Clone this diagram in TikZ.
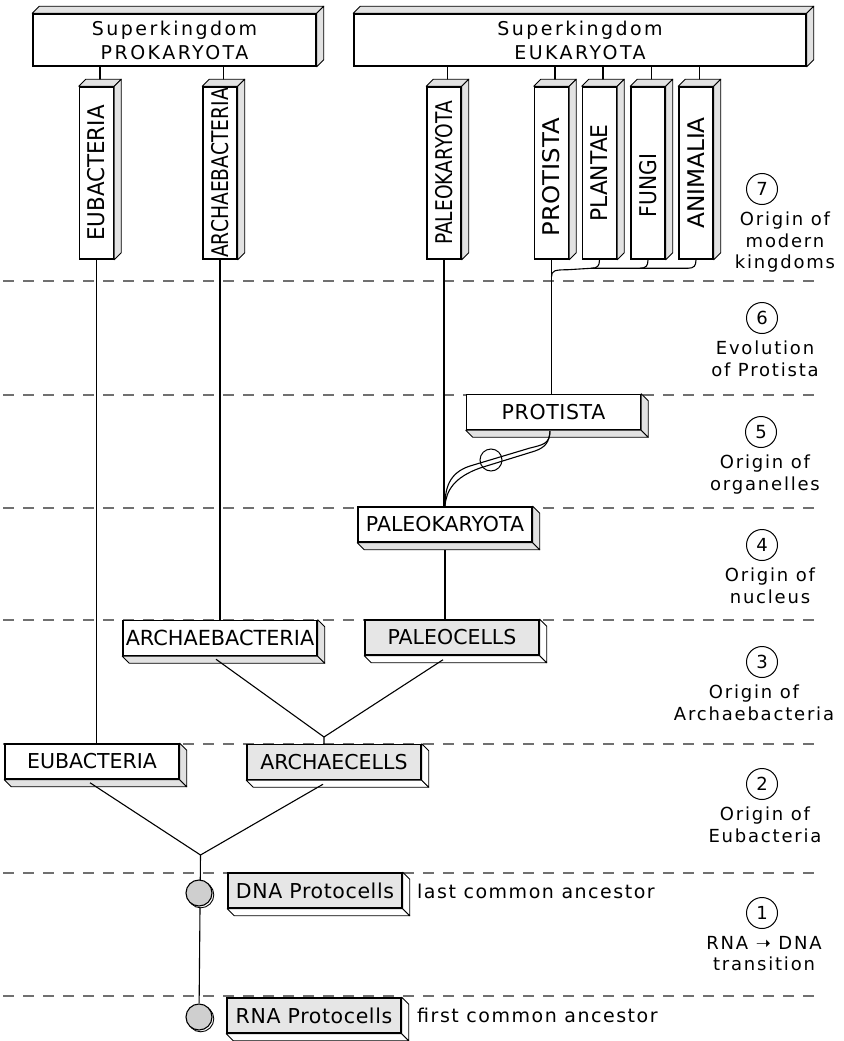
\documentclass[tikz,border=0pt]{standalone}
\usepackage{fontspec}
\setmainfont{DejaVu Sans}
\usepackage{graphicx}
\usetikzlibrary{calc,backgrounds}
\definecolor{facegray}{HTML}{E2E2E2}
\definecolor{boxgray}{HTML}{E6E6E6}
\definecolor{dotgray}{HTML}{CFCFCF}
\definecolor{dashgray}{HTML}{707070}
\newcommand\trk[1]{\addfontfeature{LetterSpace=#1}}
\newcommand\vtext[3][0pt]{\rotatebox{90}{\scalebox{#2}[1]{#3}\hspace{#1}}}
\newcommand\myfaceUR[2][face]{%
  \filldraw[#1] (#2.north west) -- ++(7,-7) -- ($(#2.north east)+(7,-7)$) -- (#2.north east) -- cycle;
  \filldraw[#1] (#2.north east) -- ($(#2.north east)+(7,-7)$) -- ($(#2.south east)+(7,-7)$) -- (#2.south east) -- cycle;}
\newcommand\myfaceDR[2][face]{%
  \filldraw[#1] (#2.south west) -- ++(7,7) -- ($(#2.south east)+(7,7)$) -- (#2.south east) -- cycle;
  \filldraw[#1] (#2.north east) -- ($(#2.north east)+(7,7)$) -- ($(#2.south east)+(7,7)$) -- (#2.south east) -- cycle;}
\begin{document}
\begin{tikzpicture}[x=1pt,y=-1pt,
  front/.style={draw, line width=1.5pt, fill=white, inner sep=0pt, minimum height=35pt, minimum width=174pt, font=\fontsize{20.5}{24}\selectfont},
  gfront/.style={front, fill=boxgray},
  vfront/.style={front, minimum width=34pt, minimum height=172pt, font=\fontsize{23}{24}\selectfont},
  sfront/.style={front, minimum height=52pt, minimum width=283pt, align=center, font=\fontsize{19}{24}\selectfont\trk{13}},
  face/.style={draw, line width=0.9pt, fill=facegray, line join=round},
  wface/.style={face, fill=white},
  conn/.style={line width=1.1pt},
  sep/.style={dashgray, line width=1.1pt, dash pattern=on 11pt off 9pt},
  stage/.style={circle, draw, line width=1pt, minimum size=31pt, inner sep=0pt, font=\fontsize{18}{20}\selectfont},
  stagetext/.style={align=center, anchor=north, inner sep=0pt, font=\fontsize{18}{21.5}\selectfont\trk{10}},
  cell/.style={circle, draw, line width=1.1pt, fill=dotgray, minimum size=26pt, inner sep=0pt},
  note/.style={anchor=west, inner sep=0pt, font=\fontsize{19}{22}\selectfont\trk{8}}
]
\useasboundingbox (0,0) rectangle (843,1041);

% superkingdoms
\node[sfront] (prok) at (174.5,40) {Superkingdom\\PROKARYOTA};
\node[sfront, minimum width=452pt] (euk) at (580,40) {Superkingdom\\EUKARYOTA};

% modern kingdoms (vertical)
\node[vfront] (eubv) at (96.5,173) {\vtext{0.93}{EUBACTERIA}};
\node[vfront] (arbv) at (220,173) {\vtext{0.814}{ARCHAEBACTERIA}};
\node[vfront] (palv) at (444,173) {\vtext{0.81}{PALEOKARYOTA}};
\node[vfront] (prv) at (551.5,173) {\vtext[8pt]{1.06}{PROTISTA}};
\node[vfront] (plav) at (599.5,173) {\vtext{0.95}{PLANTAE}};
\node[vfront] (funv) at (648,173) {\vtext[25pt]{0.88}{FUNGI}};
\node[vfront] (aniv) at (696,173) {\vtext{1.01}{ANIMALIA}};

% ancestral groups
\node[front] (prm) at (553.5,412) {\trk{3}PROTISTA};
\node[front] (palm) at (445,524.5) {PALEOKARYOTA};
\node[front, minimum width=194pt, font=\fontsize{20.8}{24}\selectfont] (arbm) at (220,638) {ARCHAEBACTERIA};
\node[gfront] (pcel) at (452,637.5) {PALEOCELLS};
\node[front] (eubm) at (92,761.5) {EUBACTERIA};
\node[gfront] (arc) at (334,762) {ARCHAECELLS};
\node[gfront] (dna) at (315,890.5) {\trk{3}DNA Protocells};
\node[gfront] (rna) at (314,1015.5) {\trk{3}RNA Protocells};

\node[note] (lca) at (417,891) {last common ancestor};
\node[note] (fca) at (417,1015) {first common ancestor};

\node[cell] (dnac) at (199,893) {};
\node[cell] (rnac) at (199,1017) {};

\coordinate (j3) at (324,737);
\coordinate (j2) at (200.5,855);

\node[circle, draw, line width=1pt, minimum size=22pt, inner sep=0pt] (org) at (491,460) {};

% stages
\node[stage] (s7) at (762,189) {7};
\node[stagetext] (t7) at (785,212) {Origin of\\modern\\kingdoms};
\node[stage] (s6) at (762,318) {6};
\node[stagetext] (t6) at (765,341) {Evolution\\of Protista};
\node[stage] (s5) at (761,432) {5};
\node[stagetext] (t5) at (765,455) {Origin of\\organelles};
\node[stage] (s4) at (762,545) {4};
\node[stagetext] (t4) at (770,568) {Origin of\\nucleus};
\node[stage] (s3) at (762,662) {3};
\node[stagetext] (t3) at (754,685) {Origin of\\Archaebacteria};
\node[stage] (s2) at (762,784) {2};
\node[stagetext] (t2) at (765,807) {Origin of\\Eubacteria};
\node[stage] (s1) at (762,913) {1};
\node[stagetext] (t1) at (764,936) {RNA ➝ DNA\\transition};

\begin{pgfonlayer}{background}
  \foreach \y in {281,395,508,620,744,873,996} \draw[sep] (3,\y) -- (817,\y);
  % superkingdom -> kingdom
  \foreach \v/\s in {eubv/prok, arbv/prok, palv/euk, prv/euk, plav/euk, funv/euk, aniv/euk} {
    \coordinate (\v-top) at ($(\v.north)+(3.5,-3.5)$);
    \draw[conn] (\v-top |- \s.south) -- (\v-top);
  }
  % kingdom -> ancestor
  \draw[conn] (eubv.south) -- (eubv.south |- eubm.north);
  \draw[conn] (arbv.south) -- (arbv.south |- arbm.north);
  \draw[conn] (palv.south) -- (palv.south |- palm.north);
  \draw[conn] (prv.south) -- (prv.south |- prm.north);
  \draw[conn] (palm.south) -- (palm.south |- pcel.north);
  % modern kingdoms join
  \draw[conn] ($(prv.south)+(0,17)$) .. controls ($(prv.south)+(0,11)$) and ($(prv.south)+(3,10)$) .. ($(prv.south)+(16,10)$) -- ($(prv.south)+(40,8.5)$) -- ($(aniv.south)+(-8,8.5)$);
  \foreach \k in {plav,funv,aniv}
    \draw[conn] (\k.south) .. controls ($(\k.south)+(0,6)$) and ($(\k.south)+(-2,8.5)$) .. ($(\k.south)+(-8,8.5)$);
  % faces
  \foreach \b in {prok,euk,eubv,arbv,palv,prv,plav,funv,aniv} \myfaceUR{\b};
  \foreach \b in {prm,palm,arbm,eubm} \myfaceDR{\b};
  \foreach \b in {pcel,arc,dna,rna} \myfaceDR[wface]{\b};
  % organelle double strand
  \draw[conn] ($(prm.south)+(-3.5,1)$) .. controls (550,444) and (542,445) .. (530,448) -- (470,466) .. controls (448,473) and (445,490) .. (palm.north);
  \draw[conn] ($(prm.south)+(-3.5,1)$) .. controls (549,442) and (546,447) .. (535,451) -- (480,468) .. controls (455,477) and (446,490) .. (palm.north);
  % lower tree
  \draw[conn] ($(arbm.south)+(-4,3)$) -- (j3) -- (j3 |- arc.north);
  \draw[conn] ($(pcel.south)+(-9,4)$) -- (j3);
  \draw[conn] ($(eubm.south)+(-2,3)$) -- (j2) -- (rnac);
  \draw[conn] ($(arc.south)+(-11,4)$) -- (j2);
  % cell shadows
  \draw[line width=0.9pt, fill=white] ($(dnac.center)+(1.8,1.8)$) circle (13pt);
  \draw[line width=0.9pt, fill=white] ($(rnac.center)+(1.8,1.8)$) circle (13pt);
\end{pgfonlayer}
\end{tikzpicture}
\end{document}
